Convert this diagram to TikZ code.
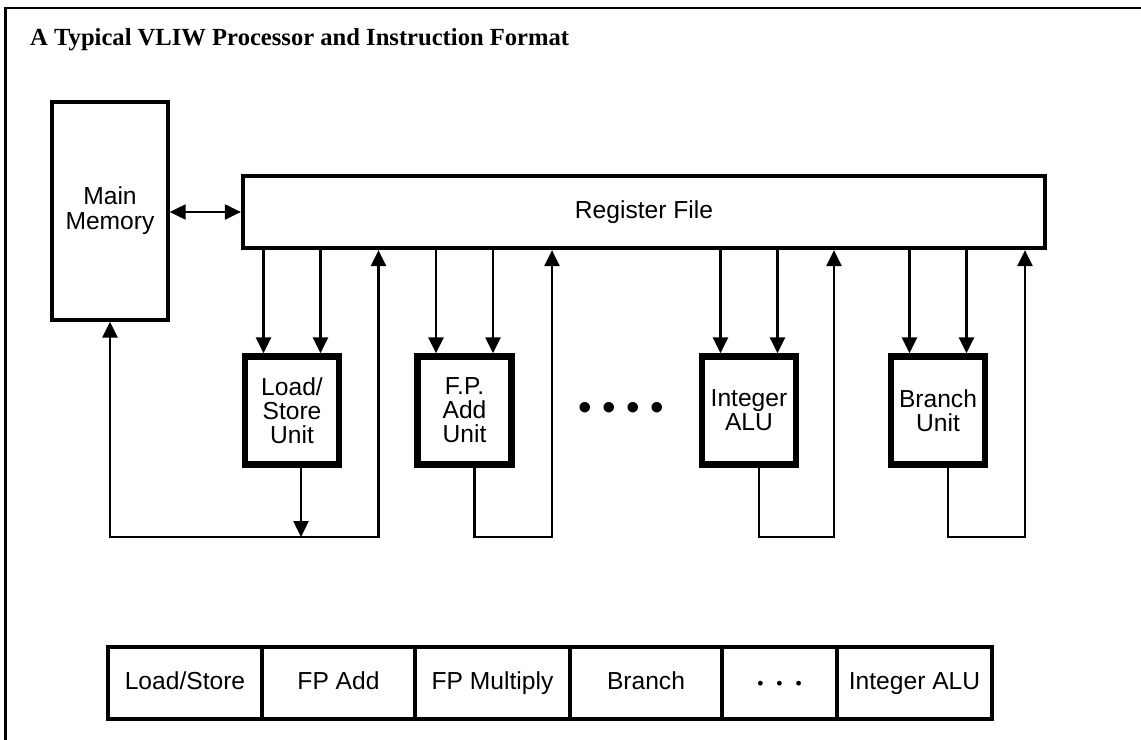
\documentclass[tikz,border=0pt]{standalone}
\usepackage{fontspec}
\setmainfont{Liberation Sans}
\newfontfamily\titlefont{Liberation Serif}
\usepackage{tikz}
\usetikzlibrary{arrows.meta,positioning}

\begin{document}
\begin{tikzpicture}[
  font=\fontsize{14}{14.2}\selectfont,
  >={Triangle[width=0.3cm,length=0.32cm]},
  unit/.style={draw,line width=3.6pt,minimum width=1.88cm,minimum height=2.16cm,align=center,font=\fontsize{14}{13.7}\selectfont},
  fmt/.style={draw,line width=2pt,minimum height=1.44cm,outer sep=0pt,text height=0.72em,text depth=0pt},
  wire/.style={line width=1.4pt},
  arr/.style={->,line width=1.4pt},
]
\useasboundingbox (0,0) rectangle (22.82,-14.8);
\draw[line width=1.2pt] (0.11,-14.8) -- (0.11,-0.16) -- (22.82,-0.16);
\node[anchor=base west,font=\titlefont\bfseries\fontsize{14}{14}\selectfont] (title) at (0.48,-0.9) {A Typical VLIW Processor and Instruction Format};

% processor
\node[draw,line width=1.9pt,minimum width=2.32cm,minimum height=4.36cm,align=center] (mem) at (2.2,-4.22) {Main\\Memory};
\node[draw,line width=2.4pt,minimum width=16.04cm,minimum height=1.44cm] (rf) at (12.88,-4.24) {Register File};
\draw[<->,line width=1.2pt] (mem.east |- rf.west) -- (rf.west);

\node[unit] (ls) at (5.84,-8.21) {Load/\\Store\\Unit};
\node[unit] (fpa) at (9.29,-8.21) {F.P.\\Add\\Unit};
\node[unit] (ialu) at (14.98,-8.21) {Integer\\ALU};
\node[unit] (br) at (18.76,-8.21) {Branch\\Unit};
\node[font=\fontsize{22}{22}\selectfont] (dots) at (12.42,-8.22) {\textbullet\hspace{0.21cm}\textbullet\hspace{0.21cm}\textbullet\hspace{0.21cm}\textbullet};

\coordinate (bus) at (0,-10.74);

% operands from the register file
\draw[arr] ([xshift=-0.57cm]ls.north |- rf.south) -- ([xshift=-0.57cm]ls.north);
\draw[arr] ([xshift=0.57cm]ls.north |- rf.south) -- ([xshift=0.57cm]ls.north);
\draw[arr] ([xshift=-0.57cm]fpa.north |- rf.south) -- ([xshift=-0.57cm]fpa.north);
\draw[arr] ([xshift=0.57cm]fpa.north |- rf.south) -- ([xshift=0.57cm]fpa.north);
\draw[arr] ([xshift=-0.57cm]ialu.north |- rf.south) -- ([xshift=-0.57cm]ialu.north);
\draw[arr] ([xshift=0.57cm]ialu.north |- rf.south) -- ([xshift=0.57cm]ialu.north);
\draw[arr] ([xshift=-0.57cm]br.north |- rf.south) -- ([xshift=-0.57cm]br.north);
\draw[arr] ([xshift=0.57cm]br.north |- rf.south) -- ([xshift=0.57cm]br.north);

% results back
\draw[arr] ([xshift=0.18cm]ls.south) -- ([xshift=0.18cm]ls.south |- bus);
\draw[<->,line width=1.4pt] (mem.south) -- (mem.south |- bus) -- ([xshift=1.73cm]ls.center |- bus) -- ([xshift=1.73cm]ls.center |- rf.south);
\draw[arr] ([xshift=0.2cm]fpa.south) -- ([xshift=0.2cm]fpa.south |- bus) -- ([xshift=1.75cm]fpa.center |- bus) -- ([xshift=1.75cm]fpa.center |- rf.south);
\draw[arr] ([xshift=0.2cm]ialu.south) -- ([xshift=0.2cm]ialu.south |- bus) -- ([xshift=1.7cm]ialu.center |- bus) -- ([xshift=1.7cm]ialu.center |- rf.south);
\draw[arr] ([xshift=0.2cm]br.south) -- ([xshift=0.2cm]br.south |- bus) -- ([xshift=1.74cm]br.center |- bus) -- ([xshift=1.74cm]br.center |- rf.south);

% instruction format
\node[fmt,minimum width=3.08cm] (f1) at (3.7,-13.66) {Load/Store};
\node[fmt,minimum width=3.06cm,right=0pt of f1] (f2) {FP Add};
\node[fmt,minimum width=3.1cm,right=0pt of f2] (f3) {FP Multiply};
\node[fmt,minimum width=3.04cm,right=0pt of f3] (f4) {Branch};
\node[fmt,minimum width=2.3cm,right=0pt of f4] (f5) {{\fontsize{10}{10}\selectfont\textbullet\hspace{0.26cm}\textbullet\hspace{0.26cm}\textbullet}};
\node[fmt,minimum width=3.1cm,right=0pt of f5] (f6) {Integer ALU};
\draw[line width=2.6pt] (f1.north west) rectangle (f6.south east);
\end{tikzpicture}
\end{document}
